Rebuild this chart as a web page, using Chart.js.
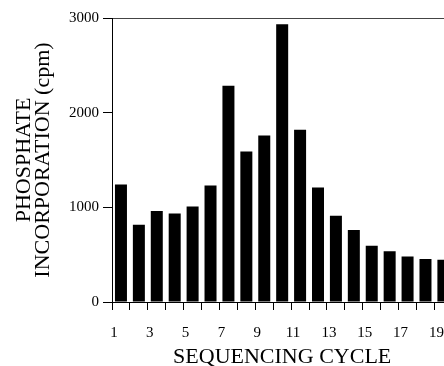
<!DOCTYPE html>
<html>
<head>
<meta charset="utf-8">
<script src="https://cdn.jsdelivr.net/npm/chart.js@4"></script>
<style>
    html, body { margin: 0; padding: 0; background: #fff; overflow: hidden; }
    #wrap { width: 465px; height: 366px; }
</style>
</head>
<body>
<div id="wrap"><canvas id="chartCycle" width="465" height="366"></canvas></div>
<script>
// sequencing cycles on the x axis
var cycles = ["1", "2", "3", "4", "5", "6", "7", "8", "9", "10",
    "11", "12", "13", "14", "15", "16", "17", "18", "19"];

// phosphate incorporation (cpm)
var cpm = [1240, 815, 960, 935, 1010, 1230, 2285, 1590, 1760, 2935,
    1820, 1210, 912, 760, 595, 535, 480, 455, 445];

var yTicks = [0, 1000, 2000, 3000];

var serif = "'Liberation Serif', 'Times New Roman', serif";

document.addEventListener("DOMContentLoaded", main);

function main() {
    var ctx = document.getElementById("chartCycle").getContext("2d");

    var config = {
        type: "bar",
        data: {
            labels: cycles,
            datasets: [{
                data: cpm,
                backgroundColor: "#000",
                borderWidth: 0,
                barPercentage: 0.67,
                categoryPercentage: 1.0
            }]
        },
        options: {
            responsive: false,
            animation: false,
            devicePixelRatio: 1,
            layout: { padding: { top: 18, right: 4, bottom: 0, left: 0 } },
            plugins: {
                legend: { display: false },
                tooltip: { enabled: false }
            },
            scales: {
                x: {
                    type: "category",
                    offset: true,
                    border: { display: true, color: "#000", width: 1 },
                    grid: {
                        offset: true,
                        drawOnChartArea: false,
                        drawTicks: true,
                        tickLength: 8,
                        color: "#000"
                    },
                    ticks: {
                        autoSkip: false,
                        maxRotation: 0,
                        padding: 14,
                        labelOffset: -7,
                        color: "#000",
                        font: { family: serif, size: 15 },
                        //only odd cycles get a label
                        callback: function (val, idx) {
                            return idx % 2 == 0 ? cycles[idx] : "";
                        }
                    },
                    title: {
                        display: true,
                        text: "SEQUENCING CYCLE",
                        color: "#000",
                        font: { family: serif, size: 22, lineHeight: 0.8 },
                        padding: { top: 0, bottom: 0 }
                    },
                    afterFit: function (scale) { scale.height = 64; }
                },
                y: {
                    min: 0,
                    max: 3000,
                    border: { display: true, color: "#000", width: 1 },
                    grid: {
                        drawOnChartArea: true,
                        drawTicks: true,
                        tickLength: 9,
                        tickColor: "#000",
                        //only the top line runs across the plot
                        color: function (c) {
                            return c.tick && c.tick.value == 3000 ? "#444" : "rgba(0,0,0,0)";
                        }
                    },
                    afterBuildTicks: function (scale) {
                        scale.ticks = yTicks.map(function (v) { return { value: v }; });
                    },
                    ticks: {
                        padding: 4,
                        color: "#000",
                        font: { family: serif, size: 15 },
                        callback: function (val) { return String(val); }
                    },
                    title: {
                        display: true,
                        text: ["PHOSPHATE", "INCORPORATION (cpm)"],
                        color: "#000",
                        font: { family: serif, size: 22, lineHeight: 0.85 },
                        padding: { top: 15, bottom: 0 }
                    },
                    afterFit: function (scale) { scale.width = 112; }
                }
            }
        }
    };

    new Chart(ctx, config);
}
</script>
</body>
</html>
